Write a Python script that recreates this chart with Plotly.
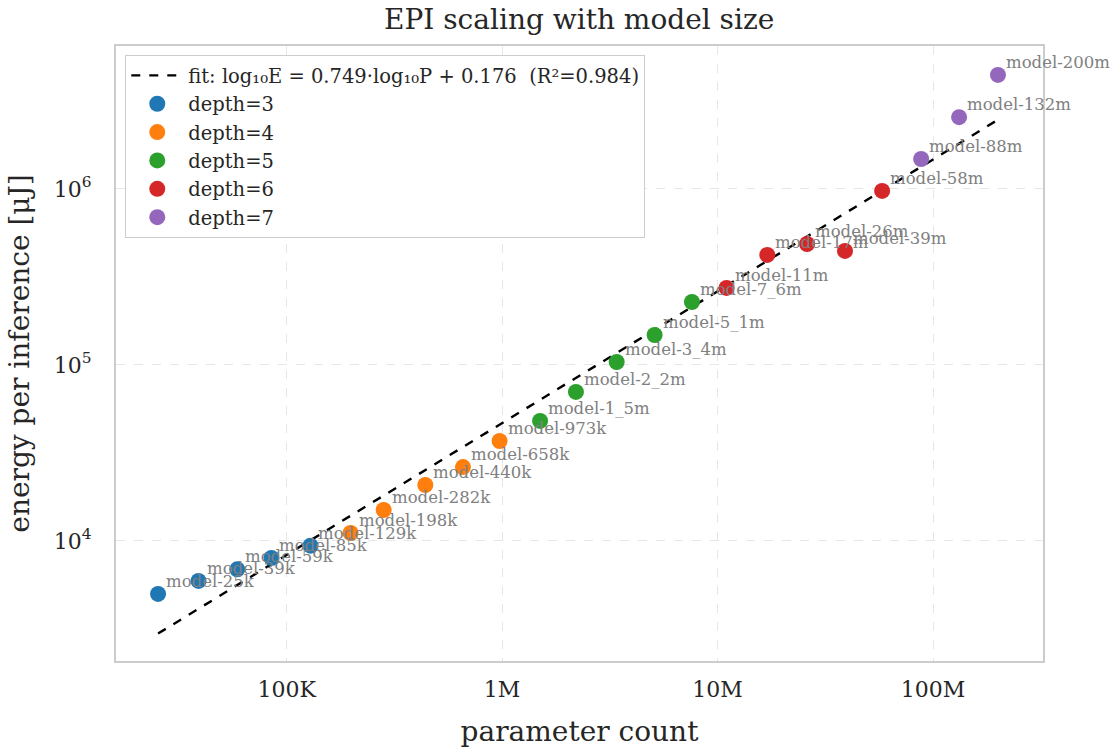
import numpy as np
import plotly.graph_objects as go

# ---- data ----
depths = [3, 4, 5, 6, 7]
colors = ["#1f77b4", "#ff7f0e", "#2ca02c", "#d62728", "#9467bd"]

labels_d3 = ["model-25k", "model-39k", "model-59k", "model-85k", "model-129k"]
params_d3 = [25.3e3, 39e3, 59e3, 85e3, 129e3]
energy_d3 = [5000, 5930, 6900, 8000, 9400]

labels_d4 = ["model-198k", "model-282k", "model-440k", "model-658k", "model-973k"]
params_d4 = [198e3, 282e3, 440e3, 658e3, 973e3]
energy_d4 = [11100, 15000, 20800, 26300, 37000]

labels_d5 = ["model-1_5m", "model-2_2m", "model-3_4m", "model-5_1m", "model-7_6m"]
params_d5 = [1.5e6, 2.2e6, 3.4e6, 5.1e6, 7.6e6]
energy_d5 = [48100, 70300, 104000, 148000, 228000]

labels_d6 = ["model-11m", "model-17m", "model-26m", "model-39m", "model-58m"]
params_d6 = [11e6, 17e6, 26e6, 39e6, 58e6]
energy_d6 = [274000, 422000, 487000, 445000, 975000]

labels_d7 = ["model-88m", "model-132m", "model-200m"]
params_d7 = [88e6, 132e6, 200e6]
energy_d7 = [1.48e6, 2.56e6, 4.45e6]

fit_slope = 0.749
fit_intercept = 0.176
fit_r2 = 0.984

x_tickvals = [1e5, 1e6, 1e7, 1e8]
x_ticktext = ["100K", "1M", "10M", "100M"]
y_tickvals = [1e4, 1e5, 1e6]
y_ticktext = ["10<sup>4</sup>", "10<sup>5</sup>", "10<sup>6</sup>"]

groups = [
    (labels_d3, params_d3, energy_d3),
    (labels_d4, params_d4, energy_d4),
    (labels_d5, params_d5, energy_d5),
    (labels_d6, params_d6, energy_d6),
    (labels_d7, params_d7, energy_d7),
]

FONT = "DejaVu Serif"
TXT = "#262626"
fig = go.Figure()

all_p = [p for g in groups for p in g[1]]
pmin, pmax = min(all_p), max(all_p)
fx = np.logspace(np.log10(pmin), np.log10(pmax), 50)
fy = 10 ** (fit_slope * np.log10(fx) + fit_intercept)
fig.add_trace(go.Scatter(
    x=fx, y=fy, mode="lines",
    line=dict(color="black", width=2.4, dash="dash"),
    name=f"fit: log₁₀E = {fit_slope:.3f}·log₁₀P + {fit_intercept:.3f}  (R²={fit_r2:.3f})",
))

for d, c, (labs, ps, es) in zip(depths, colors, groups):
    fig.add_trace(go.Scatter(
        x=ps, y=es, mode="markers",
        marker=dict(color=c, size=16, line=dict(width=0)),
        name=f"depth={d}",
    ))
    for lab, p, e in zip(labs, ps, es):
        fig.add_annotation(
            x=np.log10(p), y=np.log10(e), text=lab, showarrow=False,
            xanchor="left", yanchor="bottom", xshift=6, yshift=1,
            font=dict(family=FONT, size=16.5, color="#808080"),
        )

axis_common = dict(
    type="log", automargin=False,
    showline=True, mirror=True, linecolor="#cccccc", linewidth=2,
    showgrid=True, gridcolor="#e6e6e6", griddash="dash", gridwidth=1,
    ticks="", zeroline=False,
    tickfont=dict(family=FONT, size=22, color=TXT),
)

fig.update_layout(
    width=1118, height=749,
    margin=dict(l=116, r=75, t=46, b=88),
    paper_bgcolor="white", plot_bgcolor="white",
    font=dict(family=FONT, color=TXT),
    title=dict(text="EPI scaling with model size", x=0.518, xanchor="center",
               y=0.988, yanchor="top",
               font=dict(family=FONT, size=28, color=TXT)),
    legend=dict(x=0.01, y=0.985, xanchor="left", yanchor="top",
                bgcolor="white", bordercolor="#cccccc", borderwidth=1,
                font=dict(family=FONT, size=19.5, color=TXT),
                tracegroupgap=0, itemwidth=52),
    showlegend=True,
)
fig.update_xaxes(
    **axis_common,
    range=[4.208, 8.51],
    tickvals=x_tickvals, ticktext=x_ticktext, ticklabelstandoff=8,
    title=dict(text="parameter count", font=dict(family=FONT, size=28, color=TXT), standoff=20),
)
fig.update_yaxes(
    **axis_common,
    range=[3.318, 6.8125],
    tickvals=y_tickvals, ticktext=y_ticktext, ticklabelstandoff=18,
    title=dict(text="energy per inference [μJ]", font=dict(family=FONT, size=28, color=TXT), standoff=16),
)

fig.write_html("out.html")
